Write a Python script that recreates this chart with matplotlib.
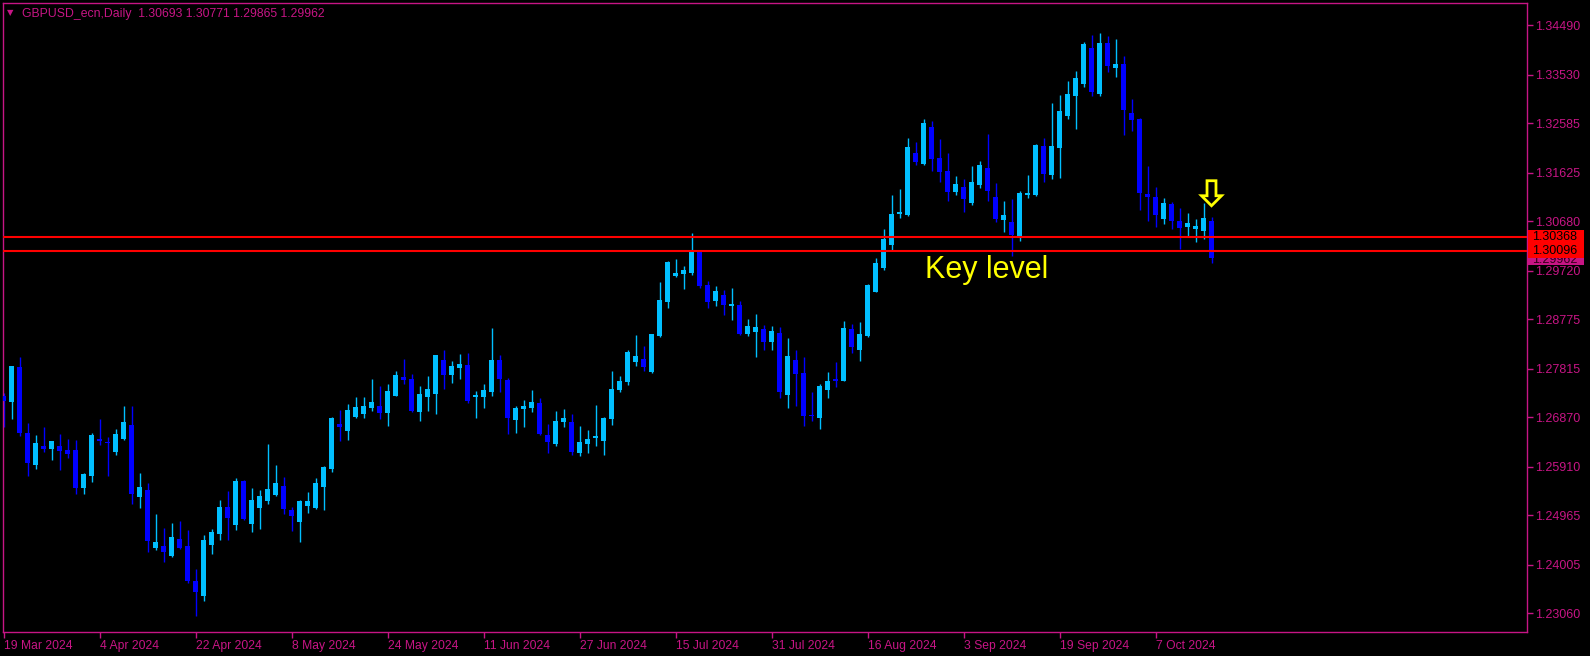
import numpy as np
import pandas as pd
import matplotlib
matplotlib.use('Agg')
import matplotlib.pyplot as plt
from matplotlib.patches import Polygon, Rectangle
from matplotlib.transforms import blended_transform_factory

# Daily GBPUSD candles, 19 Mar 2024 .. 16 Oct 2024
dates = pd.bdate_range('2024-03-19', '2024-10-16')

opens = [
    1.2729, 1.2716, 1.2785, 1.2657, 1.2595, 1.2631, 1.2626, 1.2631, 1.2624, 1.2624,
    1.2550, 1.2574, 1.2645, 1.2639, 1.2620, 1.2645, 1.2672, 1.2533, 1.2546, 1.2434,
    1.2437, 1.2418, 1.2450, 1.2437, 1.2369, 1.2340, 1.2438, 1.2461, 1.2513, 1.2478,
    1.2563, 1.2480, 1.2511, 1.2525, 1.2536, 1.2554, 1.2507, 1.2484, 1.2515, 1.2511,
    1.2552, 1.2587, 1.2674, 1.2661, 1.2688, 1.2694, 1.2705, 1.2709, 1.2696, 1.2729,
    1.2766, 1.2762, 1.2698, 1.2727, 1.2733, 1.2799, 1.2769, 1.2783, 1.2789, 1.2727,
    1.2727, 1.2736, 1.2799, 1.2760, 1.2682, 1.2703, 1.2705, 1.2715, 1.2653, 1.2635,
    1.2678, 1.2678, 1.2618, 1.2635, 1.2647, 1.2641, 1.2684, 1.2740, 1.2756, 1.2795,
    1.2801, 1.2775, 1.2845, 1.2911, 1.2962, 1.2966, 1.2968, 1.3009, 1.2944, 1.2913,
    1.2925, 1.2904, 1.2906, 1.2849, 1.2853, 1.2859, 1.2834, 1.2851, 1.2731, 1.2799,
    1.2773, 1.2692, 1.2686, 1.2740, 1.2762, 1.2758, 1.2859, 1.2818, 1.2845, 1.2931,
    1.2977, 1.3022, 1.3082, 1.3080, 1.3201, 1.3180, 1.3252, 1.3191, 1.3166, 1.3125,
    1.3135, 1.3104, 1.3139, 1.3172, 1.3115, 1.3071, 1.3067, 1.3038, 1.3119, 1.3119,
    1.3215, 1.3158, 1.3211, 1.3273, 1.3312, 1.3335, 1.3405, 1.3316, 1.3415, 1.3366,
    1.3374, 1.3279, 1.3267, 1.3121, 1.3115, 1.3073, 1.3102, 1.3069, 1.3057, 1.3053,
    1.3049, 1.30693,
]
highs = [
    1.2734, 1.2787, 1.2804, 1.2676, 1.2653, 1.2668, 1.2641, 1.2655, 1.2645, 1.2643,
    1.2579, 1.2657, 1.2684, 1.2648, 1.2664, 1.2709, 1.2709, 1.2579, 1.2559, 1.2499,
    1.2472, 1.2482, 1.2486, 1.2468, 1.2392, 1.2458, 1.2470, 1.2526, 1.2543, 1.2569,
    1.2565, 1.2550, 1.2546, 1.2635, 1.2594, 1.2571, 1.2513, 1.2526, 1.2542, 1.2569,
    1.2593, 1.2688, 1.2701, 1.2713, 1.2727, 1.2727, 1.2762, 1.2748, 1.2752, 1.2777,
    1.2801, 1.2771, 1.2748, 1.2768, 1.2808, 1.2818, 1.2797, 1.2810, 1.2813, 1.2738,
    1.2752, 1.2861, 1.2808, 1.2764, 1.2709, 1.2721, 1.2740, 1.2725, 1.2674, 1.2699,
    1.2703, 1.2694, 1.2670, 1.2663, 1.2711, 1.2688, 1.2777, 1.2768, 1.2818, 1.2847,
    1.2826, 1.2850, 1.2950, 1.2991, 1.2995, 1.2981, 1.3045, 1.3010, 1.2952, 1.2942,
    1.2935, 1.2939, 1.2913, 1.2878, 1.2888, 1.2867, 1.2865, 1.2863, 1.2841, 1.2818,
    1.2804, 1.2736, 1.2752, 1.2775, 1.2795, 1.2874, 1.2869, 1.2872, 1.2946, 1.2997,
    1.3053, 1.3119, 1.3131, 1.3230, 1.3222, 1.3267, 1.3263, 1.3228, 1.3201, 1.3156,
    1.3150, 1.3176, 1.3185, 1.3238, 1.3143, 1.3108, 1.3112, 1.3127, 1.3158, 1.3219,
    1.3230, 1.3298, 1.3314, 1.3341, 1.3360, 1.3417, 1.3430, 1.3434, 1.3428, 1.3423,
    1.3390, 1.3306, 1.3269, 1.3176, 1.3135, 1.3114, 1.3106, 1.3094, 1.3084, 1.3073,
    1.3104, 1.30771,
]
lows = [
    1.2668, 1.2684, 1.2650, 1.2574, 1.2587, 1.2620, 1.2605, 1.2585, 1.2609, 1.2539,
    1.2539, 1.2562, 1.2633, 1.2574, 1.2613, 1.2644, 1.2519, 1.2510, 1.2426, 1.2430,
    1.2405, 1.2416, 1.2431, 1.2366, 1.2300, 1.2331, 1.2422, 1.2449, 1.2449, 1.2469,
    1.2488, 1.2465, 1.2470, 1.2519, 1.2534, 1.2500, 1.2467, 1.2445, 1.2502, 1.2508,
    1.2507, 1.2581, 1.2641, 1.2643, 1.2686, 1.2686, 1.2699, 1.2684, 1.2670, 1.2728,
    1.2752, 1.2698, 1.2680, 1.2699, 1.2694, 1.2742, 1.2754, 1.2762, 1.2715, 1.2686,
    1.2705, 1.2729, 1.2736, 1.2655, 1.2657, 1.2668, 1.2698, 1.2653, 1.2618, 1.2631,
    1.2668, 1.2614, 1.2612, 1.2618, 1.2631, 1.2614, 1.2672, 1.2736, 1.2750, 1.2787,
    1.2777, 1.2774, 1.2844, 1.2900, 1.2960, 1.2937, 1.2964, 1.2939, 1.2900, 1.2904,
    1.2886, 1.2876, 1.2847, 1.2845, 1.2804, 1.2818, 1.2818, 1.2725, 1.2705, 1.2709,
    1.2670, 1.2680, 1.2664, 1.2725, 1.2746, 1.2757, 1.2812, 1.2797, 1.2844, 1.2930,
    1.2974, 1.3012, 1.3075, 1.3079, 1.3178, 1.3178, 1.3166, 1.3145, 1.3108, 1.3119,
    1.3086, 1.3100, 1.3133, 1.3108, 1.3067, 1.3047, 1.3001, 1.3030, 1.3114, 1.3117,
    1.3145, 1.3150, 1.3152, 1.3267, 1.3248, 1.3329, 1.3312, 1.3312, 1.3358, 1.3349,
    1.3236, 1.3244, 1.3090, 1.3069, 1.3057, 1.3063, 1.3053, 1.3014, 1.3040, 1.3028,
    1.3034, 1.29865,
]
closes = [
    1.2719, 1.2786, 1.2657, 1.2599, 1.2637, 1.2626, 1.2641, 1.2622, 1.2616, 1.2550,
    1.2577, 1.2653, 1.2641, 1.2637, 1.2655, 1.2678, 1.2539, 1.2552, 1.2447, 1.2445,
    1.2426, 1.2455, 1.2434, 1.2369, 1.2348, 1.2449, 1.2464, 1.2513, 1.2492, 1.2563,
    1.2490, 1.2526, 1.2534, 1.2548, 1.2559, 1.2508, 1.2496, 1.2525, 1.2525, 1.2559,
    1.2591, 1.2686, 1.2668, 1.2701, 1.2707, 1.2709, 1.2717, 1.2696, 1.2738, 1.2769,
    1.2760, 1.2699, 1.2733, 1.2742, 1.2808, 1.2769, 1.2787, 1.2791, 1.2719, 1.2731,
    1.2740, 1.2799, 1.2762, 1.2686, 1.2705, 1.2709, 1.2717, 1.2655, 1.2639, 1.2680,
    1.2686, 1.2620, 1.2639, 1.2645, 1.2651, 1.2686, 1.2742, 1.2758, 1.2814, 1.2806,
    1.2785, 1.2849, 1.2915, 1.2989, 1.2968, 1.2974, 1.3009, 1.2942, 1.2911, 1.2933,
    1.2906, 1.2907, 1.2849, 1.2865, 1.2863, 1.2834, 1.2855, 1.2736, 1.2806, 1.2771,
    1.2690, 1.2690, 1.2748, 1.2758, 1.2758, 1.2861, 1.2824, 1.2849, 1.2944, 1.2987,
    1.3034, 1.3082, 1.3086, 1.3213, 1.3184, 1.3259, 1.3189, 1.3164, 1.3125, 1.3141,
    1.3112, 1.3145, 1.3178, 1.3127, 1.3073, 1.3080, 1.3042, 1.3123, 1.3123, 1.3217,
    1.3160, 1.3215, 1.3283, 1.3316, 1.3347, 1.3413, 1.3320, 1.3415, 1.3370, 1.3374,
    1.3285, 1.3265, 1.3123, 1.3115, 1.3080, 1.3104, 1.3069, 1.3055, 1.3065, 1.3059,
    1.3075, 1.29962,
]

key_levels = [1.30368, 1.30096]
bid = 1.29962
title = 'GBPUSD_ecn,Daily  1.30693 1.30771 1.29865 1.29962'
price_ticks = [1.34490, 1.33530, 1.32585, 1.31625, 1.30680, 1.29720, 1.28775,
               1.27815, 1.26870, 1.25910, 1.24965, 1.24005, 1.23060]

MAG = '#C71585'
BULL = '#00BFFF'
BEAR = '#0000FF'

plt.rcParams['font.family'] = ['Liberation Sans', 'DejaVu Sans']

W, H = 1590, 656
fig = plt.figure(figsize=(W / 100, H / 100), dpi=100, facecolor='black')
# plot frame: x 2.5..1526.5 px, y 3..632 px (from top)
ax = fig.add_axes([2.5 / W, 1 - 632 / H, 1524 / W, 629 / H], facecolor='black')

y_lo, y_hi = 1.22698, 1.34926
ax.set_xlim(-0.125, 190.375)
ax.set_ylim(y_lo, y_hi)
ppx = (y_hi - y_lo) / 629  # price per pixel

o = np.array(opens)
h = np.array(highs)
l = np.array(lows)
c = np.array(closes)
x = np.arange(len(o))
cols = np.where(c >= o, BULL, BEAR)

ax.vlines(x, l, h, colors=cols, lw=1.0, zorder=2)
body_bot = np.minimum(o, c)
body_h = np.maximum(np.abs(c - o), ppx)
ax.bar(x, body_h, 0.66, bottom=body_bot, color=cols, lw=0, zorder=3)

# key level lines
for lvl in key_levels:
    ax.axhline(lvl, color='#FF0000', lw=1.5, zorder=4)

ax.text(115.2, 1.2958, 'Key level', color='#FFFF00', fontsize=22, va='baseline', zorder=6)

# hollow down arrow above the last candle
xc = x[-1]
tip = h[-1] + 11 * ppx
head_top = tip + 10 * ppx
top = tip + 25 * ppx
arrow = [(xc - 0.56, top), (xc + 0.56, top), (xc + 0.56, head_top), (xc + 1.25, head_top),
         (xc, tip), (xc - 1.25, head_top), (xc - 0.56, head_top)]
ax.add_patch(Polygon(arrow, closed=True, fill=False, ec='#FFFF00', lw=2, zorder=6))

# axes styling
for sp in ax.spines.values():
    sp.set_color(MAG)
    sp.set_linewidth(1)

ax.yaxis.tick_right()
ax.set_yticks(price_ticks)
ax.set_yticklabels([f'{v:.5f}' for v in price_ticks])
ax.tick_params(axis='y', colors=MAG, labelcolor=MAG, labelsize=9, length=4, width=1, pad=2)

tick_idx = x[::12]
ax.set_xticks(tick_idx)
ax.set_xticklabels([f'{dates[i].day} {dates[i]:%b %Y}' for i in tick_idx], ha='left')
ax.tick_params(axis='x', colors=MAG, labelcolor=MAG, labelsize=8.7, length=4, width=1, pad=2)

# price labels on the right scale
tr = blended_transform_factory(ax.transAxes, ax.transData)
bx0 = (1527.7 - 2.5) / 1524
bw = (1584 - 1527.7) / 1524
tx = (1532 - 2.5) / 1524
bh = 14 * ppx
ax.add_patch(Rectangle((bx0, bid - bh / 2), bw, bh, transform=tr, fc=MAG, ec='none',
                       clip_on=False, zorder=7))
ax.text(tx, bid - 2 * ppx, f'{bid:.5f}', transform=tr, color='#300018', fontsize=9,
        va='center', clip_on=False, zorder=7.5)
for lvl in key_levels:
    ax.add_patch(Rectangle((bx0, lvl - bh / 2), bw, bh, transform=tr, fc='#FF0000', ec='none',
                           clip_on=False, zorder=8))
    ax.text(tx, lvl, f'{lvl:.5f}', transform=tr, color='black', fontsize=9, va='center',
            clip_on=False, zorder=9)

# header line
fig.text(10.5 / W, 1 - 12.5 / H, '\u25bc', color=MAG, fontsize=6, ha='center', va='center',
         family='DejaVu Sans')
fig.text(21.5 / W, 1 - 17.3 / H, title, color=MAG, fontsize=8.8, va='baseline')

fig.savefig('out.png', dpi=100, facecolor='black')
